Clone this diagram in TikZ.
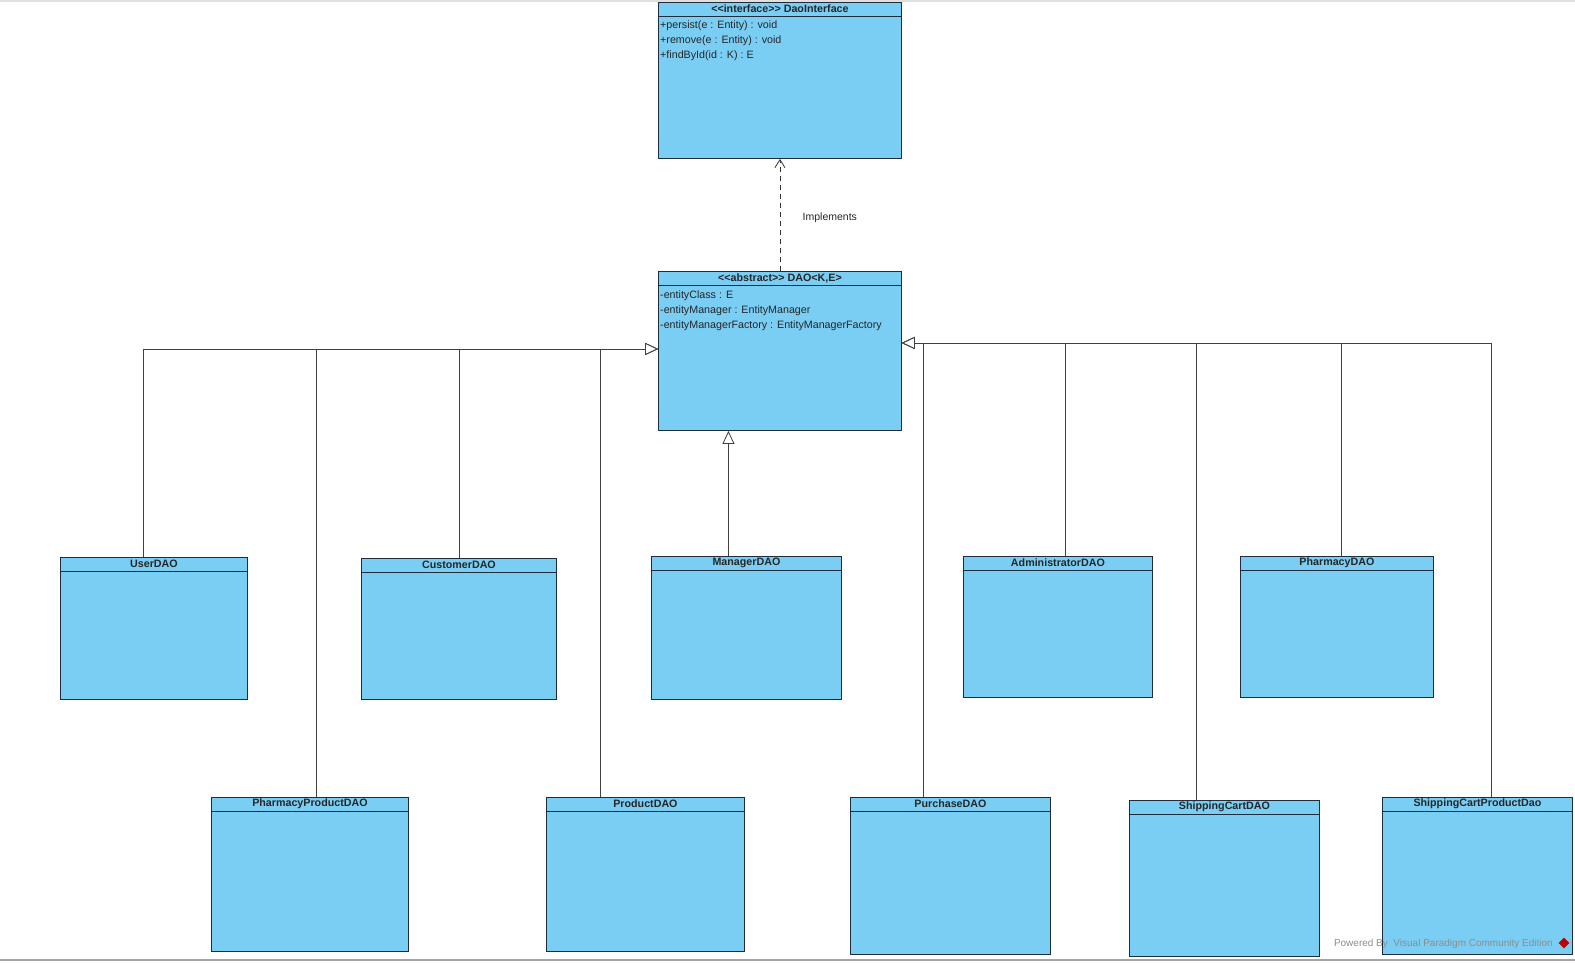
\documentclass[tikz,border=0pt]{standalone}
\usepackage{fontspec}
\setmainfont{Liberation Sans}
\usepackage{xcolor}
\usetikzlibrary{arrows.meta,shapes.geometric}
\definecolor{vpblue}{RGB}{122,206,244}
\definecolor{vpline}{RGB}{32,44,60}

\begin{document}
\begin{tikzpicture}[x=1pt, y=-1pt,
    cls/.style={draw=vpline, fill=vpblue, line width=0.9pt,
                anchor=north west, inner sep=0pt},
    ttl/.style={font=\fontsize{10.7}{13}\selectfont\bfseries,
                text=black!85, inner sep=0pt},
    attr/.style={font=\fontsize{10.7}{15}\selectfont, align=left,
                 anchor=base west, inner sep=0pt, text=black!85},
    gen/.style={-{Triangle[open, length=13pt, width=12pt, fill=white]},
                line width=0.8pt, draw=black!75},
    impl/.style={-{Straight Barb[length=8pt, width=10pt]},
                 dash pattern=on 5pt off 4pt, line width=0.8pt, draw=black!80}
  ]
    \useasboundingbox (0,0) rectangle (1575,962);
    \draw[black!12, line width=1.5pt] (0,1) -- (1575,1);
    \draw[black!35, line width=2pt] (0,960) -- (1575,960);

    % classes
    \node[cls, minimum width=243pt, minimum height=156pt] (iface) at (658,2) {};
    \node[cls, minimum width=243pt, minimum height=159pt] (dao) at (658,271) {};
    \node[cls, minimum width=187pt, minimum height=142pt] (user) at (60,557) {};
    \node[cls, minimum width=195pt, minimum height=141pt] (customer) at (361,558) {};
    \node[cls, minimum width=190pt, minimum height=143pt] (manager) at (651,556) {};
    \node[cls, minimum width=189pt, minimum height=141pt] (admin) at (963,556) {};
    \node[cls, minimum width=193pt, minimum height=141pt] (pharmacy) at (1240,556) {};
    \node[cls, minimum width=197pt, minimum height=154pt] (pprod) at (211,797) {};
    \node[cls, minimum width=198pt, minimum height=154pt] (product) at (546,797) {};
    \node[cls, minimum width=200pt, minimum height=157pt] (purchase) at (850,797) {};
    \node[cls, minimum width=190pt, minimum height=156pt] (shipcart) at (1129,800) {};
    \node[cls, minimum width=190pt, minimum height=157pt] (shipcartprod) at (1382,797) {};

    \foreach \n in {iface,dao,user,customer,manager,admin,pharmacy,
                    pprod,product,purchase,shipcart,shipcartprod}
      \draw[draw=vpline, line width=0.9pt]
        ([yshift=-14pt]\n.north west) -- ([yshift=-14pt]\n.north east);

    % titles
    \node[ttl] (iface-t) at ([yshift=-7pt]iface.north) {<{}<interface>{}> DaoInterface};
    \node[ttl] (dao-t) at ([yshift=-7pt]dao.north) {<{}<abstract>{}> DAO<K,E>};
    \node[ttl] (user-t) at ([yshift=-7pt]user.north) {UserDAO};
    \node[ttl] (customer-t) at ([yshift=-7pt]customer.north) {CustomerDAO};
    \node[ttl] (manager-t) at ([yshift=-7pt]manager.north) {ManagerDAO};
    \node[ttl] (admin-t) at ([yshift=-7pt]admin.north) {AdministratorDAO};
    \node[ttl] (pharmacy-t) at ([yshift=-7pt]pharmacy.north) {PharmacyDAO};
    \node[ttl] (pprod-t) at ([yshift=-7pt]pprod.north) {PharmacyProductDAO};
    \node[ttl] (product-t) at ([yshift=-7pt]product.north) {ProductDAO};
    \node[ttl] (purchase-t) at ([yshift=-7pt]purchase.north) {PurchaseDAO};
    \node[ttl] (shipcart-t) at ([yshift=-7pt]shipcart.north) {ShippingCartDAO};
    \node[ttl] (shipcartprod-t) at ([yshift=-7pt]shipcartprod.north) {ShippingCartProductDao};

    % members (base = last line)
    \node[attr] (iface-ops) at ([xshift=2pt, yshift=-56pt]iface.north west)
      {+persist(e : Entity) : void\\+remove(e : Entity) : void\\+findById(id : K) : E};
    \node[attr] (dao-attrs) at ([xshift=2pt, yshift=-57pt]dao.north west)
      {-entityClass : E\\-entityManager : EntityManager\\-entityManagerFactory : EntityManagerFactory};

    % realization
    \draw[impl] (dao.north) -- (iface.south)
      node[midway, anchor=west, xshift=19pt, yshift=-3pt, font=\fontsize{10.5}{12}\selectfont, text=black!85] (impl-lbl) {Implements};

    % generalizations
    \coordinate (inL) at ([yshift=2pt]dao.west);
    \coordinate (inR) at ([yshift=8pt]dao.east);
    \draw[gen] ([xshift=-10.5pt]user.north) |- (inL);
    \draw[gen] ([xshift=6.5pt]pprod.north) |- (inL);
    \draw[gen] (customer.north) |- (inL);
    \draw[gen] ([xshift=-45pt]product.north) |- (inL);
    \draw[gen] ([xshift=-18pt]manager.north) -- ([xshift=-18pt]manager.north |- dao.south);
    \draw[gen] ([xshift=-27pt]purchase.north) |- (inR);
    \draw[gen] ([xshift=7.5pt]admin.north) |- (inR);
    \draw[gen] ([xshift=-28pt]shipcart.north) |- (inR);
    \draw[gen] ([xshift=4.5pt]pharmacy.north) |- (inR);
    \draw[gen] ([xshift=14pt]shipcartprod.north) |- (inR);

    % watermark
    \node[anchor=east, inner sep=0pt, font=\fontsize{10}{10}\selectfont, text=black!45]
      (wm) at (1553,944) {Powered By \ Visual Paradigm Community Edition};
    \node[diamond, fill=red!75!black, inner sep=0pt, minimum size=11pt] (logo) at (1564,943) {};
  \end{tikzpicture}
\end{document}
